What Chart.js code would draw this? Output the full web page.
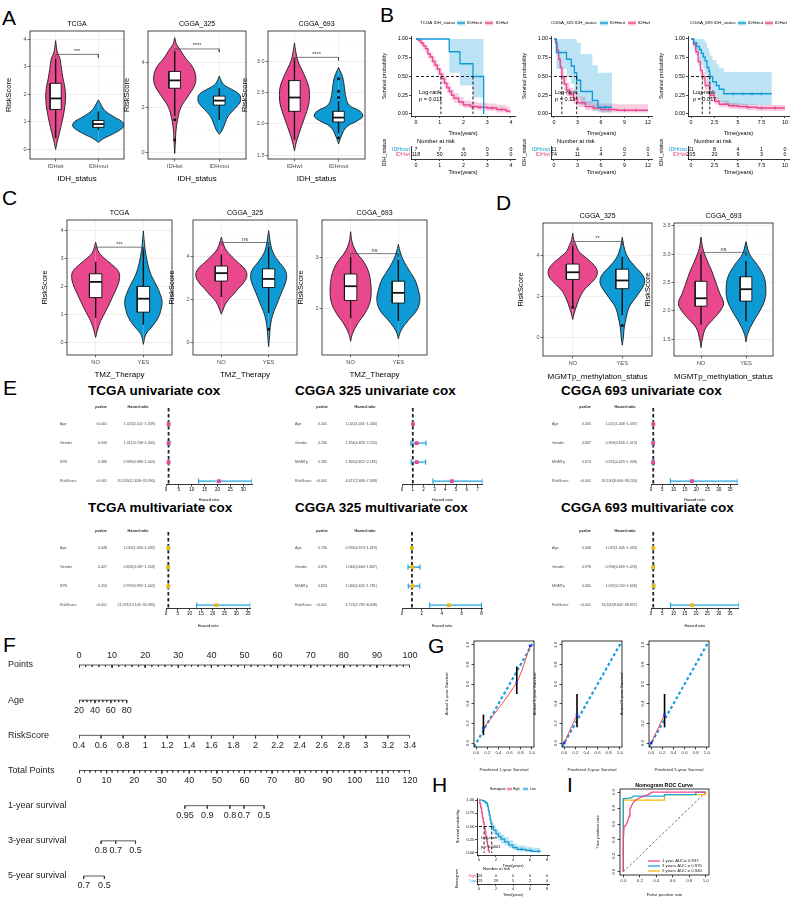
<!DOCTYPE html>
<html>
<head>
<meta charset="utf-8">
<title>Risk score figure</title>
<script src="https://cdn.jsdelivr.net/npm/chart.js@4.4.1/dist/chart.umd.min.js"></script>
<style>
  body { margin: 0; background: #fff; }
  #fig { position: relative; width: 794px; height: 897px; overflow: hidden; font-family: 'Liberation Sans', Arial, sans-serif; }
  #fig canvas { position: absolute; }
  .tag { position: absolute; font-size: 21px; line-height: 1; color: #000; }
  .cox { position: absolute; font-size: 13.5px; font-weight: bold; line-height: 1; white-space: nowrap; color: #000; }
</style>
</head>
<body>
<div id="fig">
  <div class="tag" style="left:2px;top:7px">A</div>
  <div class="tag" style="left:380px;top:4px">B</div>
  <div class="tag" style="left:2px;top:187px">C</div>
  <div class="tag" style="left:496px;top:192px">D</div>
  <div class="tag" style="left:3px;top:377px">E</div>
  <div class="tag" style="left:3px;top:634px">F</div>
  <div class="tag" style="left:428px;top:635px">G</div>
  <div class="tag" style="left:432px;top:774px">H</div>
  <div class="tag" style="left:567px;top:774px">I</div>
  <div class="cox" style="left:88px;top:384px">TCGA univariate cox</div>
  <div class="cox" style="left:295px;top:384px">CGGA 325 univariate cox</div>
  <div class="cox" style="left:561px;top:384px">CGGA 693 univariate cox</div>
  <div class="cox" style="left:88px;top:501px">TCGA multivariate cox</div>
  <div class="cox" style="left:295px;top:501px">CGGA 325 multivariate cox</div>
  <div class="cox" style="left:561px;top:501px">CGGA 693 multivariate cox</div>
</div>
<script>
const PINK = '#E9488F', BLUE = '#0E9BD5';
const PINK_L = 'rgba(233,72,143,0.28)', BLUE_L = 'rgba(14,155,213,0.28)';
const EBLUE = '#1EA5DE', GOLD = '#F4B50C';

// ---- A: RiskScore by IDH status (violin outline: y levels + half widths) ----
const idhCats = ['IDHwt', 'IDHmut'];
const aTcgaWtY = [0, 0.3, 0.6, 1.0, 1.4, 1.8, 2.2, 2.6, 3.0, 3.3, 3.5, 3.7, 3.95];
const aTcgaWtW = [0, 0.04, 0.09, 0.15, 0.2, 0.23, 0.22, 0.17, 0.13, 0.1, 0.045, 0.02, 0];
const aTcgaMutY = [0.25, 0.4, 0.55, 0.7, 0.85, 1.0, 1.15, 1.3, 1.45, 1.6, 1.8];
const aTcgaMutW = [0, 0.13, 0.33, 0.5, 0.6, 0.56, 0.4, 0.24, 0.13, 0.07, 0];
const aTcgaBox = [[1.45, 1.85, 2.4], [0.8, 0.92, 1.05]];
const aTcgaWhisk = [[0.4, 3.3], [0.7, 1.38]];

const a325WtY = [-0.05, 0.5, 1.0, 1.5, 2.0, 2.5, 3.0, 3.4, 3.8, 4.2, 4.6, 4.8, 5.1];
const a325WtW = [0, 0.015, 0.03, 0.07, 0.14, 0.3, 0.45, 0.47, 0.4, 0.24, 0.11, 0.04, 0];
const a325MutY = [0.8, 1.0, 1.3, 1.6, 1.9, 2.2, 2.4, 2.6, 2.8, 3.0, 3.2, 3.4];
const a325MutW = [0, 0.07, 0.13, 0.2, 0.33, 0.46, 0.48, 0.44, 0.28, 0.11, 0.04, 0];
const a325Box = [[2.85, 3.2, 3.6], [2.1, 2.3, 2.5]];
const a325Whisk = [[1.6, 4.5], [1.45, 2.85]];
const a325WtOut = [0.55, 1.45];

const a693WtY = [1.57, 1.7, 1.9, 2.1, 2.3, 2.45, 2.6, 2.8, 3.0, 3.15, 3.29];
const a693WtW = [0, 0.04, 0.13, 0.23, 0.32, 0.34, 0.32, 0.21, 0.08, 0.03, 0];
const a693MutY = [1.68, 1.8, 1.95, 2.05, 2.12, 2.2, 2.3, 2.45, 2.6, 2.75, 2.9];
const a693MutW = [0, 0.06, 0.18, 0.43, 0.55, 0.49, 0.24, 0.16, 0.13, 0.09, 0];
const a693Box = [[2.2, 2.42, 2.69], [2.03, 2.1, 2.2]];
const a693Whisk = [[1.75, 3.05], [1.85, 2.36]];
const a693MutOut = [2.42, 2.52, 2.72, 1.78];

// ---- C: RiskScore by TMZ therapy ----
const yesNo = ['NO', 'YES'];
const cTcgaNoY = [0.2, 0.5, 0.8, 1.1, 1.4, 1.7, 2.0, 2.3, 2.55, 2.8, 3.0, 3.2, 3.4, 3.6];
const cTcgaNoW = [0, 0.045, 0.11, 0.2, 0.29, 0.37, 0.45, 0.5, 0.48, 0.34, 0.2, 0.08, 0.03, 0];
const cTcgaYesY = [-0.05, 0.3, 0.6, 0.9, 1.2, 1.5, 1.8, 2.1, 2.4, 2.7, 3.0, 3.3, 3.6, 4.0];
const cTcgaYesW = [0, 0.05, 0.19, 0.31, 0.37, 0.39, 0.34, 0.26, 0.17, 0.11, 0.07, 0.04, 0.02, 0];
const cTcgaBox = [[1.62, 2.18, 2.47], [1.1, 1.58, 2.02]];
const cTcgaWhisk = [[0.9, 2.9], [0.65, 3.4]];

const c325NoY = [1.3, 1.6, 1.9, 2.2, 2.5, 2.8, 3.1, 3.4, 3.7, 4.0, 4.3, 4.6, 4.9];
const c325NoW = [0, 0.05, 0.12, 0.24, 0.36, 0.48, 0.54, 0.5, 0.36, 0.22, 0.1, 0.04, 0];
const c325YesY = [-0.2, 0.3, 0.8, 1.3, 1.8, 2.3, 2.8, 3.1, 3.4, 3.8, 4.2, 4.6, 5.2];
const c325YesW = [0, 0.02, 0.04, 0.09, 0.18, 0.27, 0.36, 0.38, 0.34, 0.2, 0.09, 0.04, 0];
const c325Box = [[2.85, 3.22, 3.55], [2.55, 2.95, 3.42]];
const c325Whisk = [[2.1, 4.1], [1.35, 4.45]];
const c325YesOut = [0.6];

const c693NoY = [1.35, 1.5, 1.7, 1.9, 2.1, 2.3, 2.5, 2.7, 2.9, 3.1, 3.3, 3.5];
const c693NoW = [0, 0.04, 0.15, 0.3, 0.4, 0.43, 0.42, 0.38, 0.28, 0.12, 0.03, 0];
const c693YesY = [1.4, 1.55, 1.75, 1.95, 2.15, 2.35, 2.55, 2.75, 2.95, 3.1, 3.25];
const c693YesW = [0, 0.05, 0.2, 0.38, 0.45, 0.42, 0.35, 0.22, 0.1, 0.04, 0];
const c693Box = [[2.15, 2.43, 2.67], [2.1, 2.3, 2.53]];
const c693Whisk = [[1.8, 3.0], [1.75, 2.95]];

// ---- D: RiskScore by MGMTp methylation ----
const d325NoY = [0.9, 1.2, 1.5, 1.9, 2.3, 2.7, 3.0, 3.3, 3.6, 3.9, 4.2, 4.5, 4.8, 5.1];
const d325NoW = [0, 0.03, 0.07, 0.13, 0.22, 0.38, 0.48, 0.49, 0.41, 0.27, 0.13, 0.07, 0.02, 0];
const d325YesY = [-0.35, 0, 0.5, 1.0, 1.5, 2.0, 2.5, 2.8, 3.1, 3.5, 3.9, 4.3, 4.9];
const d325YesW = [0, 0.02, 0.04, 0.08, 0.14, 0.28, 0.42, 0.45, 0.4, 0.25, 0.12, 0.05, 0];
const d325Box = [[2.85, 3.2, 3.6], [2.4, 2.8, 3.35]];
const d325Whisk = [[1.55, 4.5], [1.1, 3.95]];
const d325NoOut = [1.5], d325YesOut = [0.6];

const d693NoY = [1.35, 1.5, 1.7, 1.9, 2.05, 2.15, 2.3, 2.5, 2.7, 2.9, 3.1, 3.3];
const d693NoW = [0, 0.03, 0.11, 0.33, 0.47, 0.5, 0.42, 0.33, 0.24, 0.13, 0.04, 0];
const d693YesY = [1.45, 1.6, 1.8, 2.0, 2.2, 2.4, 2.6, 2.8, 3.0, 3.22];
const d693YesW = [0, 0.04, 0.16, 0.31, 0.42, 0.44, 0.4, 0.26, 0.08, 0];
const d693Box = [[2.08, 2.22, 2.52], [2.17, 2.38, 2.6]];
const d693Whisk = [[1.75, 3.0], [1.82, 2.88]];

// ---- B: Kaplan-Meier by IDH status ----
const bTcgaMutT = [0, 1.4, 1.85, 2.4, 2.85];
const bTcgaMutS = [1, 0.83, 0.67, 0.5, 0];
const bTcgaMutUp = [1, 1, 1, 1, 0];
const bTcgaMutLo = [1, 0.55, 0.38, 0.22, 0];
const bTcgaWtT = [0, 0.1, 0.2, 0.3, 0.4, 0.5, 0.6, 0.7, 0.8, 0.9, 1.0, 1.1, 1.2, 1.3, 1.4, 1.5, 1.6, 1.8, 2.0, 2.3, 2.6, 3.0, 3.4, 3.8, 3.95];
const bTcgaWtS = [1, 0.98, 0.95, 0.91, 0.87, 0.8, 0.76, 0.7, 0.65, 0.6, 0.53, 0.47, 0.41, 0.35, 0.3, 0.25, 0.21, 0.16, 0.12, 0.1, 0.09, 0.08, 0.06, 0.04, 0.02];
const bTcgaWtUp = [1, 1, 0.99, 0.96, 0.92, 0.86, 0.82, 0.77, 0.72, 0.67, 0.61, 0.55, 0.49, 0.43, 0.38, 0.33, 0.28, 0.23, 0.18, 0.16, 0.15, 0.14, 0.12, 0.1, 0.08];
const bTcgaWtLo = [1, 0.95, 0.91, 0.86, 0.81, 0.74, 0.69, 0.63, 0.58, 0.53, 0.46, 0.4, 0.34, 0.28, 0.24, 0.19, 0.15, 0.11, 0.08, 0.06, 0.05, 0.04, 0.02, 0.01, 0];
const bTcgaWtCens = [2.7, 3.2, 3.6];
const tcgaRiskMut = [7, 7, 4, 0, 0], tcgaRiskWt = [118, 50, 10, 3, 0];

const b325MutT = [0, 0.3, 1.6, 2.2, 2.6, 2.9, 3.4, 4.9, 5.6, 7.4];
const b325MutS = [1, 0.82, 0.73, 0.64, 0.55, 0.45, 0.3, 0.18, 0.09, 0.09];
const b325MutUp = [1, 1, 1, 1, 1, 0.95, 0.8, 0.65, 0.55, 0.55];
const b325MutLo = [1, 0.6, 0.5, 0.4, 0.3, 0.22, 0.12, 0.05, 0.02, 0.02];
const b325WtT = [0, 0.2, 0.4, 0.6, 0.8, 1.0, 1.3, 1.6, 2.0, 2.5, 3.0, 4.0, 5.0, 6.0, 8.0, 12.0];
const b325WtS = [1, 0.95, 0.85, 0.73, 0.62, 0.5, 0.4, 0.32, 0.26, 0.2, 0.15, 0.1, 0.08, 0.06, 0.05, 0.05];
const b325WtUp = [1, 0.99, 0.92, 0.82, 0.71, 0.6, 0.5, 0.42, 0.35, 0.29, 0.23, 0.17, 0.15, 0.14, 0.13, 0.13];
const b325WtLo = [1, 0.9, 0.78, 0.65, 0.53, 0.41, 0.31, 0.24, 0.18, 0.13, 0.09, 0.05, 0.04, 0.02, 0.02, 0.02];
const b325WtCens = [7, 9, 10.5];
const c325RiskMut = [11, 4, 1, 0, 0], c325RiskWt = [74, 11, 4, 2, 1];

const b693MutT = [0, 0.3, 0.6, 0.9, 1.1, 1.3, 1.5, 1.7, 1.9, 2.0, 2.3, 2.7, 3.0, 3.5, 8.6];
const b693MutS = [1, 0.95, 0.9, 0.86, 0.81, 0.76, 0.71, 0.62, 0.57, 0.5, 0.43, 0.38, 0.33, 0.27, 0.27];
const b693MutUp = [1, 1, 1, 1, 1, 0.98, 0.95, 0.88, 0.84, 0.78, 0.72, 0.66, 0.61, 0.56, 0.56];
const b693MutLo = [1, 0.86, 0.78, 0.72, 0.65, 0.59, 0.53, 0.44, 0.38, 0.31, 0.25, 0.2, 0.16, 0.12, 0.12];
const b693MutCens = [4.5, 5.5, 6.5, 7.5];
const b693WtT = [0, 0.25, 0.5, 0.75, 1.0, 1.2, 1.5, 2.0, 2.5, 3.0, 4.0, 5.0, 6.0, 7.0, 10.0];
const b693WtS = [1, 0.93, 0.83, 0.7, 0.58, 0.5, 0.38, 0.25, 0.17, 0.13, 0.11, 0.1, 0.09, 0.08, 0.08];
const b693WtUp = [1, 0.96, 0.88, 0.76, 0.64, 0.56, 0.44, 0.3, 0.22, 0.18, 0.15, 0.14, 0.13, 0.12, 0.12];
const b693WtLo = [1, 0.9, 0.78, 0.64, 0.52, 0.44, 0.32, 0.2, 0.13, 0.09, 0.07, 0.06, 0.05, 0.04, 0.04];
const b693WtCens = [4.5, 6, 7.5, 9];
const c693RiskMut = [21, 8, 4, 1, 0], c693RiskWt = [205, 20, 9, 3, 0];

// ---- E: Cox forest plots ----
const tcgaVars = ['Age', 'Gender', 'KPS', 'RiskScore'];
const cggaVars = ['Age', 'Gender', 'MGMTp', 'RiskScore'];
const tcgaUniP = ['<0.001', '0.944', '0.386', '<0.001'];
const tcgaUniHR = [1.025, 1.011, 0.989, 20.559];
const tcgaUniLo = [1.011, 0.708, 0.980, 12.658];
const tcgaUniHi = [1.039, 1.445, 1.003, 33.390];
const c325UniP = ['0.041', '0.230', '0.185', '<0.001'];
const c325UniHR = [1.020, 1.354, 1.365, 4.617];
const c325UniLo = [1.001, 0.826, 0.852, 2.866];
const c325UniHi = [1.040, 2.220, 2.185, 7.438];
const c693UniP = ['0.005', '0.847', '0.674', '<0.001'];
const c693UniHR = [1.021, 0.963, 0.921, 18.130];
const c693UniLo = [1.006, 0.656, 0.629, 8.604];
const c693UniHi = [1.037, 1.413, 1.349, 38.234];
const tcgaMulP = ['0.048', '0.427', '0.200', '<0.001'];
const tcgaMulHR = [1.016, 0.858, 0.997, 21.591];
const tcgaMulLo = [1.000, 0.587, 0.992, 13.105];
const tcgaMulHi = [1.032, 1.253, 1.002, 35.985];
const c325MulP = ['0.736', '0.876', '0.824', '<0.001'];
const c325MulHR = [0.996, 1.044, 1.066, 4.723];
const c325MulLo = [0.974, 0.604, 0.632, 2.785];
const c325MulHi = [1.019, 1.807, 1.781, 8.008];
const c693MulP = ['0.008', '0.978', '0.665', '<0.001'];
const c693MulHR = [1.019, 0.994, 1.097, 18.320];
const c693MulLo = [1.005, 0.669, 0.740, 8.642];
const c693MulHi = [1.033, 1.476, 1.626, 38.857];

// ---- F: nomogram ----
const nomoRows = ['Points', 'Age', 'RiskScore', 'Total Points', '1-year survival', '3-year survival', '5-year survival'];
const pointsLabels = [0, 10, 20, 30, 40, 50, 60, 70, 80, 90, 100];
const ageLabels = [20, 40, 60, 80];
const agePointsAt80 = 14.4;
const riskLabels = [0.4, 0.6, 0.8, 1, 1.2, 1.4, 1.6, 1.8, 2, 2.2, 2.4, 2.6, 2.8, 3, 3.2, 3.4];
const totalLabels = [0, 10, 20, 30, 40, 50, 60, 70, 80, 90, 100, 110, 120];
const surv1Labels = ['0.95', '0.9', '0.8', '0.7', '0.5'], surv1Pos = [38.4, 46.5, 54.7, 59.8, 67.1];
const surv3Labels = ['0.8', '0.7', '0.5'], surv3Pos = [8.0, 13.3, 20.5];
const surv5Labels = ['0.7', '0.5'], surv5Pos = [1.7, 9.2];

// ---- G: calibration ----
const cal1Pred = [0.13, 0.73, 0.97], cal1Obs = [0.15, 0.62, 0.99], cal1Lo = [0.08, 0.50, null], cal1Hi = [0.29, 0.78, null];
const cal3Pred = [0.0, 0.23], cal3Obs = [0.0, 0.29], cal3Lo = [null, 0.16], cal3Hi = [null, 0.50];
const cal5Pred = [0.0, 0.24], cal5Obs = [0.0, 0.29], cal5Lo = [null, 0.16], cal5Hi = [null, 0.50];

// ---- H: KM by nomogram group ----
const hHighT = [0, 0.1, 0.2, 0.3, 0.4, 0.5, 0.6, 0.7, 0.8, 0.9, 1.0, 1.1, 1.2];
const hHighS = [1, 0.93, 0.85, 0.76, 0.67, 0.58, 0.5, 0.41, 0.32, 0.22, 0.13, 0.05, 0];
const hHighUp = [1, 0.97, 0.9, 0.82, 0.73, 0.64, 0.56, 0.47, 0.38, 0.28, 0.18, 0.09, 0];
const hHighLo = [1, 0.89, 0.8, 0.7, 0.61, 0.52, 0.44, 0.35, 0.26, 0.17, 0.08, 0.02, 0];
const hLowT = [0, 0.4, 0.6, 0.8, 1.0, 1.1, 1.2, 1.3, 1.4, 1.5, 1.7, 2.0, 2.3, 2.6, 3.0, 3.5, 4.0, 4.5, 5.5, 6.2, 7.2];
const hLowS = [1, 0.99, 0.97, 0.94, 0.88, 0.8, 0.72, 0.63, 0.56, 0.5, 0.43, 0.36, 0.31, 0.26, 0.21, 0.15, 0.1, 0.07, 0.05, 0.03, 0.02];
const hLowUp = [1, 1, 1, 0.98, 0.93, 0.86, 0.79, 0.71, 0.65, 0.59, 0.52, 0.45, 0.4, 0.35, 0.3, 0.24, 0.18, 0.14, 0.12, 0.1, 0.1];
const hLowLo = [1, 0.97, 0.93, 0.88, 0.82, 0.73, 0.65, 0.56, 0.48, 0.42, 0.35, 0.28, 0.23, 0.18, 0.14, 0.09, 0.05, 0.03, 0.02, 0.01, 0.005];
const hLowCens = [5, 6, 7];
const nomoRiskHigh = [123, 0, 0, 0, 0], nomoRiskLow = [123, 29, 5, 2, 0];

// ---- I: ROC ----
const roc1Fpr = [0, 0, 0.01, 0.03, 0.05, 0.06, 0.07, 0.08, 0.1, 0.12, 0.15, 0.2, 0.25, 0.3, 0.35, 1];
const roc1Tpr = [0, 0.4, 0.57, 0.58, 0.63, 0.66, 0.7, 0.78, 0.83, 0.87, 0.9, 0.93, 0.95, 0.97, 1, 1];
const roc3Fpr = [0, 0, 0.03, 0.1, 0.12, 0.5, 0.5, 0.88, 0.88, 1];
const roc3Tpr = [0, 0.92, 0.92, 0.93, 0.95, 0.95, 0.97, 0.97, 1, 1];
const roc5Fpr = [0, 0, 0.5, 0.5, 1, 1];
const roc5Tpr = [0, 0.9, 0.9, 0.97, 0.97, 1];
const rocLegend = ['1 year AUC= 0.937', '3 years AUC = 0.970', '5 years AUC = 0.940'];

// ================= helpers =================
const FONT = "'Liberation Sans', Arial, sans-serif";
Chart.defaults.font.family = FONT;
Chart.defaults.color = '#333';
Chart.defaults.animation = false;
Chart.defaults.responsive = false;
Chart.defaults.maintainAspectRatio = false;
Chart.defaults.plugins.legend.display = false;
Chart.defaults.plugins.tooltip.enabled = false;
Chart.defaults.plugins.colors.enabled = false;
Chart.defaults.elements.point.radius = 0;
Chart.defaults.elements.point.hoverRadius = 0;

Chart.register({
  id: 'frame',
  afterDatasetsDraw(chart, args, opts) {
    if (!opts.color) return;
    const a = chart.chartArea, ctx = chart.ctx;
    ctx.save();
    ctx.strokeStyle = opts.color;
    ctx.lineWidth = opts.width || 1;
    ctx.strokeRect(a.left, a.top, a.right - a.left, a.bottom - a.top);
    ctx.restore();
  }
});
Chart.register({
  id: 'texts',
  afterDatasetsDraw(chart) {
    const items = chart.canvas._texts || [];
    const ctx = chart.ctx, ox = chart.canvas._ox, oy = chart.canvas._oy;
    items.forEach(t => {
      let px = t.px !== undefined ? t.px - ox : chart.scales[t.xAxis || 'x'].getPixelForValue(t.x);
      let py = t.py !== undefined ? t.py - oy : chart.scales[t.yAxis || 'y'].getPixelForValue(t.y);
      px += t.dx || 0; py += t.dy || 0;
      ctx.save();
      if (t.swatch) {
        if (t.fill) { ctx.fillStyle = t.fill; ctx.fillRect(px, py - t.h / 2, t.w, t.h); }
        ctx.strokeStyle = t.swatch; ctx.lineWidth = t.lw || 1;
        ctx.beginPath(); ctx.moveTo(px, py); ctx.lineTo(px + t.w, py); ctx.stroke();
      } else {
        ctx.font = (t.bold ? 'bold ' : '') + (t.size || 6) + 'px ' + FONT;
        ctx.fillStyle = t.color || '#000';
        ctx.textAlign = t.align || 'center';
        ctx.textBaseline = 'middle';
        ctx.fillText(t.text, px, py);
      }
      ctx.restore();
    });
  }
});

const fig = document.getElementById('fig');
function mk(cv, texts) {
  const c = document.createElement('canvas');
  c.width = cv[2]; c.height = cv[3];
  c.style.left = cv[0] + 'px'; c.style.top = cv[1] + 'px';
  c._ox = cv[0]; c._oy = cv[1]; c._texts = texts || [];
  fig.appendChild(c);
  return c;
}
function pad(cv, pa, left) {
  return { padding: { left: left || 0, top: pa[1] - cv[1], right: cv[0] + cv[2] - pa[2], bottom: 0 } };
}
const ticksAt = list => s => { s.ticks = list.map(v => ({ value: v })); };
const fitW = w => s => { s.width = w; };
const fitH = h => s => { s.height = h; };
const pts = (xs, ys) => xs.map((x, i) => ({ x, y: ys[i] }));
function survAt(t, s, x) { let v = s[0]; t.forEach((ti, i) => { if (ti <= x) v = s[i]; }); return v; }

// ---------- violin (ggplot theme_bw) ----------
function violin(o) {
  const cv = o.cv, pa = o.pa, ds = [];
  o.groups.forEach((g, i) => {
    const c = i + 1, col = i === 0 ? PINK : BLUE, bw = 0.13, b = g.box;
    ds.push({ data: g.y.map((y, k) => ({ x: c - g.w[k], y })), fill: { value: c }, backgroundColor: col, borderColor: '#1a1a1a', borderWidth: 0.9, tension: 0.4, order: 9 });
    ds.push({ data: g.y.map((y, k) => ({ x: c + g.w[k], y })), fill: { value: c }, backgroundColor: col, borderColor: '#1a1a1a', borderWidth: 0.9, tension: 0.4, order: 9 });
    ds.push({ data: [{ x: c, y: g.wk[0] }, { x: c, y: g.wk[1] }], borderColor: '#111', borderWidth: 1.4, fill: false, order: 7 });
    ds.push({ data: [{ x: c - bw, y: b[0] }, { x: c - bw, y: b[2] }], fill: { value: c + bw }, backgroundColor: '#fff', borderWidth: 0, order: 6 });
    ds.push({ data: [{ x: c - bw, y: b[0] }, { x: c + bw, y: b[0] }, { x: c + bw, y: b[2] }, { x: c - bw, y: b[2] }, { x: c - bw, y: b[0] }], borderColor: '#111', borderWidth: 0.9, fill: false, order: 5 });
    ds.push({ data: [{ x: c - bw, y: b[1] }, { x: c + bw, y: b[1] }], borderColor: '#111', borderWidth: 1.8, fill: false, order: 4 });
    if (g.out) ds.push({ data: g.out.map(y => ({ x: c, y })), showLine: false, pointRadius: 1.5, pointBackgroundColor: '#111', pointBorderWidth: 0, order: 2 });
  });
  const tip = (o.yr[1] - o.yr[0]) * 0.025, sy = o.sig[0];
  ds.push({ data: [{ x: 1, y: sy - tip }, { x: 1, y: sy }, { x: 2, y: sy }, { x: 2, y: sy - tip }], borderColor: '#444', borderWidth: 0.7, fill: false, order: 1 });
  const majors = o.ticks, all = majors.concat(o.minor).sort((a, b) => a - b);
  const isMaj = v => majors.some(m => Math.abs(m - v) < 1e-9);
  const texts = [
    { text: o.title, px: (pa[0] + pa[2]) / 2, py: pa[1] - 7, size: 7, color: '#000' },
    { text: o.sig[1], x: 1.5, y: sy, dy: -3, size: 5.5, color: '#333' }
  ];
  new Chart(mk(cv, texts), {
    type: 'line',
    data: { datasets: ds },
    options: {
      devicePixelRatio: 1, indexAxis: 'y', layout: pad(cv, pa),
      scales: {
        x: { type: 'linear', min: 0.4, max: 2.6, afterBuildTicks: ticksAt([1, 2]),
          ticks: { callback: v => o.cats[v - 1], font: { size: 5.8 }, color: '#4d4d4d', padding: 1, maxRotation: 0 },
          grid: { color: '#EBEBEB', lineWidth: 0.7, tickLength: 2.5, tickColor: '#333', tickWidth: 0.7 },
          border: { display: false },
          title: { display: true, text: o.xTitle, font: { size: 8 }, color: '#000', padding: { top: 1, bottom: 0 } },
          afterFit: fitH(cv[1] + cv[3] - pa[3]) },
        y: { type: 'linear', min: o.yr[0], max: o.yr[1], afterBuildTicks: ticksAt(all),
          ticks: { callback: v => isMaj(v) ? o.fmt(v) : '', font: { size: 5.5 }, color: '#4d4d4d', padding: 1, autoSkip: false },
          grid: { color: c => (c.tick && isMaj(c.tick.value)) ? '#E6E6E6' : '#F2F2F2',
            lineWidth: c => (c.tick && isMaj(c.tick.value)) ? 0.7 : 0.4, tickLength: 2.5,
            tickColor: c => (c.tick && isMaj(c.tick.value)) ? '#333' : 'rgba(0,0,0,0)', tickWidth: 0.7 },
          border: { display: false },
          title: { display: true, text: 'RiskScore', font: { size: 7.5 }, color: '#000', padding: 0 },
          afterFit: fitW(pa[0] - cv[0]) }
      },
      plugins: { frame: { color: '#333', width: 0.9 } }
    }
  });
}
const intFmt = v => String(v), decFmt = v => v.toFixed(1);

violin({ cv: [4, 14, 124, 170], pa: [30, 31, 124, 159], title: 'TCGA', cats: idhCats, xTitle: 'IDH_status', yr: [-0.35, 4.3], ticks: [0, 1, 2, 3, 4], minor: [0.5, 1.5, 2.5, 3.5], fmt: intFmt, sig: [3.45, '***'],
  groups: [{ y: aTcgaWtY, w: aTcgaWtW, box: aTcgaBox[0], wk: aTcgaWhisk[0] }, { y: aTcgaMutY, w: aTcgaMutW, box: aTcgaBox[1], wk: aTcgaWhisk[1] }] });
violin({ cv: [122, 14, 128, 170], pa: [148, 31, 246, 159], title: 'CGGA_325', cats: idhCats, xTitle: 'IDH_status', yr: [-0.3, 5.4], ticks: [0, 2, 4], minor: [1, 3, 5], fmt: intFmt, sig: [4.6, '****'],
  groups: [{ y: a325WtY, w: a325WtW, box: a325Box[0], wk: a325Whisk[0], out: a325WtOut }, { y: a325MutY, w: a325MutW, box: a325Box[1], wk: a325Whisk[1] }] });
violin({ cv: [240, 14, 128, 170], pa: [268, 31, 365, 159], title: 'CGGA_693', cats: idhCats, xTitle: 'IDH_status', yr: [1.44, 3.48], ticks: [1.5, 2.0, 2.5, 3.0], minor: [1.75, 2.25, 2.75, 3.25], fmt: decFmt, sig: [3.06, '****'],
  groups: [{ y: a693WtY, w: a693WtW, box: a693Box[0], wk: a693Whisk[0] }, { y: a693MutY, w: a693MutW, box: a693Box[1], wk: a693Whisk[1], out: a693MutOut }] });

violin({ cv: [40, 205, 136, 175], pa: [67, 220, 172, 355], title: 'TCGA', cats: yesNo, xTitle: 'TMZ_Therapy', yr: [-0.43, 4.39], ticks: [0, 1, 2, 3, 4], minor: [0.5, 1.5, 2.5, 3.5], fmt: intFmt, sig: [3.42, '***'],
  groups: [{ y: cTcgaNoY, w: cTcgaNoW, box: cTcgaBox[0], wk: cTcgaWhisk[0] }, { y: cTcgaYesY, w: cTcgaYesW, box: cTcgaBox[1], wk: cTcgaWhisk[1] }] });
violin({ cv: [167, 205, 134, 175], pa: [193, 220, 297, 355], title: 'CGGA_325', cats: yesNo, xTitle: 'TMZ_Therapy', yr: [-0.6, 5.7], ticks: [0, 2, 4], minor: [1, 3, 5], fmt: intFmt, sig: [4.65, 'ns'],
  groups: [{ y: c325NoY, w: c325NoW, box: c325Box[0], wk: c325Whisk[0] }, { y: c325YesY, w: c325YesW, box: c325Box[1], wk: c325Whisk[1], out: c325YesOut }] });
violin({ cv: [296, 205, 135, 175], pa: [322, 220, 427, 355], title: 'CGGA_693', cats: yesNo, xTitle: 'TMZ_Therapy', yr: [1.08, 3.73], ticks: [2, 3], minor: [1.5, 2.5, 3.5], fmt: intFmt, sig: [3.07, 'ns'],
  groups: [{ y: c693NoY, w: c693NoW, box: c693Box[0], wk: c693Whisk[0] }, { y: c693YesY, w: c693YesW, box: c693Box[1], wk: c693Whisk[1] }] });

violin({ cv: [516, 205, 140, 177], pa: [543, 223, 652, 356], title: 'CGGA_325', cats: yesNo, xTitle: 'MGMTp_methylation_status', yr: [-0.88, 5.6], ticks: [0, 2, 4], minor: [1, 3, 5], fmt: intFmt, sig: [4.7, '**'],
  groups: [{ y: d325NoY, w: d325NoW, box: d325Box[0], wk: d325Whisk[0], out: d325NoOut }, { y: d325YesY, w: d325YesW, box: d325Box[1], wk: d325Whisk[1], out: d325YesOut }] });
violin({ cv: [643, 205, 134, 177], pa: [674, 223, 773, 356], title: 'CGGA_693', cats: yesNo, xTitle: 'MGMTp_methylation_status', yr: [1.2, 3.55], ticks: [1.5, 2.0, 2.5, 3.0, 3.5], minor: [1.25, 1.75, 2.25, 2.75, 3.25], fmt: decFmt, sig: [3.03, 'ns'],
  groups: [{ y: d693NoY, w: d693NoW, box: d693Box[0], wk: d693Whisk[0] }, { y: d693YesY, w: d693YesW, box: d693Box[1], wk: d693Whisk[1] }] });

// ---------- Kaplan-Meier ----------
function kmX(cv, pa, xr, ticks, fs) {
  return { type: 'linear', min: xr[0], max: xr[1], afterBuildTicks: ticksAt(ticks),
    ticks: { callback: v => String(v), font: { size: fs }, color: '#000', padding: 1, maxRotation: 0, autoSkip: false },
    grid: { drawOnChartArea: false, tickLength: 2, tickColor: '#000', tickWidth: 0.7 },
    border: { color: '#000', width: 0.8 },
    title: { display: true, text: 'Time(years)', font: { size: fs + 0.2 }, color: '#000', padding: 0 },
    afterFit: fitH(cv[1] + cv[3] - pa[3]) };
}
function km(o) {
  const cv = o.cv, pa = o.pa, ds = [];
  o.groups.forEach(g => {
    ds.push({ data: pts(g.t, g.up), stepped: true, fill: '+1', backgroundColor: g.light, borderWidth: 0, order: 10 });
    ds.push({ data: pts(g.t, g.lo), stepped: true, fill: false, borderWidth: 0, order: 10 });
  });
  o.groups.forEach(g => {
    ds.push({ data: pts(g.t, g.s), stepped: true, fill: false, borderColor: g.color, borderWidth: o.lw, order: 5 });
    if (g.cens) ds.push({ data: g.cens.map(c => ({ x: c, y: survAt(g.t, g.s, c) })), showLine: false, pointStyle: 'cross', pointRadius: 1.8, pointBorderColor: g.color, pointBorderWidth: 0.7, order: 4 });
  });
  const med = [{ x: 0, y: 0.5 }, { x: Math.max(...o.med), y: 0.5 }];
  o.med.forEach(v => med.push({ x: v, y: null }, { x: v, y: 0.5 }, { x: v, y: 0 }));
  ds.push({ data: med, borderColor: '#000', borderWidth: 0.9, borderDash: [3, 2], fill: false, order: 3 });
  const texts = o.legend.concat([
    { text: 'Log-rank', x: o.lr[0], y: o.lr[1], align: 'left', size: o.fs + 0.3, color: '#000' },
    { text: o.p, x: o.lr[0], y: o.lr[2], align: 'left', size: o.fs + 0.3, color: '#000' }
  ]);
  new Chart(mk(cv, texts), {
    type: 'line', data: { datasets: ds },
    options: { devicePixelRatio: 1, layout: pad(cv, pa),
      scales: {
        x: kmX(cv, pa, o.xr, o.ticks, o.fs),
        y: { type: 'linear', min: o.yr[0], max: o.yr[1], afterBuildTicks: ticksAt([0, 0.25, 0.5, 0.75, 1]),
          ticks: { callback: v => v.toFixed(2), font: { size: o.fs }, color: '#000', padding: 1 },
          grid: { drawOnChartArea: false, tickLength: 2, tickColor: '#000', tickWidth: 0.7 },
          border: { color: '#000', width: 0.8 },
          title: { display: true, text: 'Survival probability', font: { size: o.fs + 0.2 }, color: '#000', padding: 0 },
          afterFit: fitW(pa[0] - cv[0]) }
      } }
  });
}
function risk(o) {
  const cv = o.cv, pa = o.pa;
  const texts = [{ text: 'Number at risk', px: pa[0] + 6, py: o.hy, align: 'left', size: o.hs, color: '#000' }];
  o.rows.forEach((r, ri) => r.n.forEach((n, k) => texts.push({ text: String(n), x: o.ticks[k], y: ri + 1, size: o.fs, color: '#000' })));
  new Chart(mk(cv, texts), {
    type: 'line', data: { datasets: [] },
    options: { devicePixelRatio: 1, layout: pad(cv, pa),
      scales: {
        x: kmX(cv, pa, o.xr, o.ticks, o.fs),
        y: { type: 'linear', reverse: true, min: 0.2, max: 2.8, afterBuildTicks: ticksAt([1, 2]),
          ticks: { callback: v => o.rows[v - 1].name, color: c => o.rows[c.index].color, font: { size: o.fs }, padding: 1 },
          grid: { drawOnChartArea: false, tickLength: 0 },
          border: { color: '#000', width: 0.8 },
          title: { display: true, text: o.yTitle, font: { size: o.fs + 0.3 }, color: '#000', padding: 0 },
          afterFit: fitW(pa[0] - cv[0]) }
      } }
  });
}
function kmLegend(y, title, x) {
  return [
    { text: title, px: x[0], py: y, align: 'left', size: 4.4, color: '#000' },
    { swatch: BLUE, fill: BLUE_L, px: x[1], py: y, w: 8, h: 5, lw: 1.4 },
    { text: 'IDHmut', px: x[2], py: y, align: 'left', size: 4.4, color: '#000' },
    { swatch: PINK, fill: PINK_L, px: x[3], py: y, w: 8, h: 5, lw: 1.4 },
    { text: 'IDHwt', px: x[4], py: y, align: 'left', size: 4.4, color: '#000' }
  ];
}
const bKmY = [-0.027, 1.04];
function idhGroups(mt, ms, mu, ml, wt, ws, wu, wl, mc, wc) {
  return [{ t: mt, s: ms, up: mu, lo: ml, color: BLUE, light: BLUE_L, cens: mc },
          { t: wt, s: ws, up: wu, lo: wl, color: PINK, light: PINK_L, cens: wc }];
}
km({ cv: [381, 17, 137, 120], pa: [411, 36, 515, 116], xr: [-0.21, 4.17], yr: bKmY, ticks: [0, 1, 2, 3, 4], fs: 5.3, lw: 1.3,
  groups: idhGroups(bTcgaMutT, bTcgaMutS, bTcgaMutUp, bTcgaMutLo, bTcgaWtT, bTcgaWtS, bTcgaWtUp, bTcgaWtLo, null, bTcgaWtCens),
  med: [1.05, 2.4], lr: [0.13, 0.29, 0.19], p: 'p = 0.011', legend: kmLegend(23, 'TCGA IDH_status', [420, 457, 467, 485, 496]) });
km({ cv: [521, 17, 136, 120], pa: [551, 36, 652, 116], xr: [-0.38, 12.51], yr: bKmY, ticks: [0, 3, 6, 9, 12], fs: 5.3, lw: 1.3,
  groups: idhGroups(b325MutT, b325MutS, b325MutUp, b325MutLo, b325WtT, b325WtS, b325WtUp, b325WtLo, [6.5], b325WtCens),
  med: [1.0, 2.9], lr: [0.13, 0.29, 0.19], p: 'p = 0.12', legend: kmLegend(23, 'CGGA_325 IDH_status', [551, 600, 610, 628, 638]) });
km({ cv: [658, 17, 136, 120], pa: [688, 36, 789, 116], xr: [-0.32, 10.43], yr: bKmY, ticks: [0, 2.5, 5, 7.5, 10], fs: 5.3, lw: 1.3,
  groups: idhGroups(b693MutT, b693MutS, b693MutUp, b693MutLo, b693WtT, b693WtS, b693WtUp, b693WtLo, b693MutCens, b693WtCens),
  med: [1.2, 2.0], lr: [0.2, 0.29, 0.19], p: 'p = 0.017', legend: kmLegend(23, 'CGGA_693 IDH_status', [690, 738, 748, 765, 775]) });

function idhRows(mut, wt) { return [{ name: 'IDHmut', color: BLUE, n: mut }, { name: 'IDHwt', color: PINK, n: wt }]; }
risk({ cv: [381, 135, 137, 41], pa: [411, 146, 515, 159], xr: [-0.21, 4.17], ticks: [0, 1, 2, 3, 4], fs: 5.3, hs: 5.8, hy: 141, yTitle: 'IDH_status', rows: idhRows(tcgaRiskMut, tcgaRiskWt) });
risk({ cv: [521, 135, 136, 41], pa: [551, 146, 652, 159], xr: [-0.38, 12.51], ticks: [0, 3, 6, 9, 12], fs: 5.3, hs: 5.8, hy: 141, yTitle: 'IDH_status', rows: idhRows(c325RiskMut, c325RiskWt) });
risk({ cv: [658, 135, 136, 41], pa: [688, 146, 789, 159], xr: [-0.32, 10.43], ticks: [0, 2.5, 5, 7.5, 10], fs: 5.3, hs: 5.8, hy: 141, yTitle: 'IDH_status', rows: idhRows(c693RiskMut, c693RiskWt) });

// H
km({ cv: [455, 786, 100, 82], pa: [477, 798, 549, 855], xr: [-0.235, 8.235], yr: [-0.038, 1.038], ticks: [0, 2, 4, 6, 8], fs: 3.8, lw: 1.2,
  groups: [{ t: hHighT, s: hHighS, up: hHighUp, lo: hHighLo, color: PINK, light: PINK_L },
           { t: hLowT, s: hLowS, up: hLowUp, lo: hLowLo, color: BLUE, light: BLUE_L, cens: hLowCens }],
  med: [0.6, 1.5], lr: [0.24, 0.28, 0.12], p: 'p < 0.0001',
  legend: [
    { text: 'Nomogram', px: 490, py: 789, align: 'left', size: 3.2, color: '#000' },
    { swatch: PINK, fill: PINK_L, px: 507, py: 789, w: 5, h: 3.5, lw: 1 },
    { text: 'High', px: 513, py: 789, align: 'left', size: 3.2, color: '#000' },
    { swatch: BLUE, fill: BLUE_L, px: 523, py: 789, w: 5, h: 3.5, lw: 1 },
    { text: 'Low', px: 530, py: 789, align: 'left', size: 3.2, color: '#000' }
  ] });
risk({ cv: [455, 866, 100, 31], pa: [477, 873, 549, 884], xr: [-0.235, 8.235], ticks: [0, 2, 4, 6, 8], fs: 3.6, hs: 4.2, hy: 869, yTitle: 'Nomogram',
  rows: [{ name: 'High', color: PINK, n: nomoRiskHigh }, { name: 'Low', color: BLUE, n: nomoRiskLow }] });

// ---------- forest plots ----------
function forest(o) {
  const cv = o.cv, pa = o.pa, ds = [];
  ds.push({ data: [{ x: 1, y: 0.15 }, { x: 1, y: 4.15 }], borderColor: '#222', borderWidth: 1.8, borderDash: [3.5, 2.5], fill: false, order: 5 });
  o.hr.forEach((h, i) => {
    const r = i + 1;
    ds.push({ data: [{ x: o.lo[i], y: r }, { x: o.hi[i], y: r }], borderColor: EBLUE, borderWidth: 1.4, fill: false,
      pointStyle: 'line', pointRotation: 90, pointRadius: 2.6, pointBorderColor: EBLUE, pointBorderWidth: 1.2, order: 3 });
    ds.push({ data: [{ x: h, y: r }], showLine: false, pointStyle: 'rect', pointRadius: 2.7, pointBackgroundColor: o.col, pointBorderWidth: 0, order: 1 });
  });
  const c = o.cols, fs = 3.6, tc = '#444';
  const texts = [
    { text: 'pvalue', px: c[3], y: 0.1, size: fs, bold: true, color: '#222' },
    { text: 'Hazard ratio', px: c[4], y: 0.1, size: fs, bold: true, color: '#222' }
  ];
  o.vars.forEach((v, i) => {
    const r = i + 1;
    texts.push({ text: v, px: c[0], y: r, align: 'left', size: fs, color: tc });
    texts.push({ text: o.p[i], px: c[1], y: r, align: 'right', size: fs, color: tc });
    texts.push({ text: o.hr[i].toFixed(3) + '(' + o.lo[i].toFixed(3) + '~' + o.hi[i].toFixed(3) + ')', px: c[2], y: r, align: 'right', size: fs, color: tc });
  });
  new Chart(mk(cv, texts), {
    type: 'line', data: { datasets: ds },
    options: { devicePixelRatio: 1, layout: pad(cv, pa, pa[0] - cv[0]),
      scales: {
        x: { type: 'linear', min: 0, max: o.xmax, afterBuildTicks: ticksAt(o.ticks),
          ticks: { font: { size: 4.5 }, color: '#000', padding: 0.5, maxRotation: 0, autoSkip: false },
          grid: { drawOnChartArea: false, tickLength: 2.5, tickColor: '#000', tickWidth: 0.8 },
          border: { color: '#000', width: 0.8 },
          title: { display: true, text: 'Hazard ratio', font: { size: 3.8 }, color: '#000', padding: { top: 1, bottom: 0 } },
          afterFit: fitH(cv[1] + cv[3] - pa[3]) },
        y: { display: false, type: 'linear', reverse: true, min: 0.15, max: 4.15 }
      } }
  });
}
const step5 = [0, 5, 10, 15, 20, 25, 30, 35];
forest({ cv: [50, 398, 212, 104], pa: [166, 408, 252, 484], xmax: 33.4, ticks: step5.slice(0, 7), col: PINK, cols: [60, 107, 155, 101, 138],
  vars: tcgaVars, p: tcgaUniP, hr: tcgaUniHR, lo: tcgaUniLo, hi: tcgaUniHi });
forest({ cv: [287, 398, 205, 104], pa: [402, 408, 482.5, 484], xmax: 7.45, ticks: [0, 1, 2, 3, 4, 5, 6, 7], col: PINK, cols: [295, 327, 377, 322, 365],
  vars: cggaVars, p: c325UniP, hr: c325UniHR, lo: c325UniLo, hi: c325UniHi });
forest({ cv: [544, 398, 202, 104], pa: [651, 408, 737.5, 484], xmax: 38.3, ticks: step5, col: PINK, cols: [552, 591, 637, 585, 625],
  vars: cggaVars, p: c693UniP, hr: c693UniHR, lo: c693UniLo, hi: c693UniHi });
forest({ cv: [50, 522, 212, 106], pa: [166, 532, 250.3, 608], xmax: 36, ticks: step5, col: GOLD, cols: [60, 107, 155, 101, 138],
  vars: tcgaVars, p: tcgaMulP, hr: tcgaMulHR, lo: tcgaMulLo, hi: tcgaMulHi });
forest({ cv: [287, 522, 205, 106], pa: [402, 532, 482, 608], xmax: 8.05, ticks: [0, 2, 4, 6, 8], col: GOLD, cols: [295, 327, 377, 322, 365],
  vars: cggaVars, p: c325MulP, hr: c325MulHR, lo: c325MulLo, hi: c325MulHi });
forest({ cv: [544, 522, 202, 106], pa: [651, 532, 738.7, 608], xmax: 38.9, ticks: step5, col: GOLD, cols: [552, 591, 637, 585, 625],
  vars: cggaVars, p: c693MulP, hr: c693MulHR, lo: c693MulLo, hi: c693MulHi });

// ---------- nomogram ----------
(function () {
  const cv = [0, 640, 432, 257];
  const range = (a, b, s) => { const r = []; for (let v = a; v <= b + 1e-9; v += s) r.push(Math.round(v * 1000) / 1000); return r; };
  function row(r, axis, majors, minors) {
    const all = majors.concat(minors);
    const d = [{ x: Math.min(...all), y: r }, { x: Math.max(...all), y: r }];
    minors.forEach(t => d.push({ x: t, y: null }, { x: t, y: r }, { x: t, y: r + 0.055 }));
    majors.forEach(t => d.push({ x: t, y: null }, { x: t, y: r }, { x: t, y: r + 0.085 }));
    return { data: d, xAxisID: axis, borderColor: '#333', borderWidth: 0.8, fill: false };
  }
  const ds = [
    row(0, 'xP', pointsLabels, range(0, 100, 2)),
    row(1, 'xA', ageLabels, range(20, 80, 5)),
    row(2, 'xR', riskLabels, []),
    row(3, 'xT', totalLabels, range(0, 120, 2)),
    row(4, 'xT', surv1Pos, []),
    row(5, 'xT', surv3Pos, []),
    row(6, 'xT', surv5Pos, [])
  ];
  const fs = 9, tc = '#222', texts = [];
  nomoRows.forEach((n, i) => texts.push({ text: n, px: 8, y: i, align: 'left', size: fs, color: tc }));
  pointsLabels.forEach(v => texts.push({ text: String(v), x: v, xAxis: 'xP', y: 0, dy: -9, size: fs, color: tc }));
  ageLabels.forEach(v => texts.push({ text: String(v), x: v, xAxis: 'xA', y: 1, dy: 10, size: fs, color: tc }));
  riskLabels.forEach(v => texts.push({ text: String(v), x: v, xAxis: 'xR', y: 2, dy: 10, size: fs, color: tc }));
  totalLabels.forEach(v => texts.push({ text: String(v), x: v, xAxis: 'xT', y: 3, dy: 10, size: fs, color: tc }));
  [[surv1Labels, surv1Pos, 4], [surv3Labels, surv3Pos, 5], [surv5Labels, surv5Pos, 6]].forEach(([lab, pos, r]) =>
    lab.forEach((l, k) => texts.push({ text: l, x: pos[k], xAxis: 'xT', y: r, dy: 10, size: fs, color: tc })));
  new Chart(mk(cv, texts), {
    type: 'line', data: { datasets: ds },
    options: { devicePixelRatio: 1, layout: { padding: { left: 79, right: cv[2] - 410, top: 0, bottom: 0 } },
      scales: {
        xP: { type: 'linear', display: false, min: 0, max: 100 },
        xA: { type: 'linear', display: false, min: 20, max: 20 + 60 * 100 / agePointsAt80 },
        xR: { type: 'linear', display: false, min: 0.4, max: 3.4 },
        xT: { type: 'linear', display: false, min: 0, max: 120 },
        y: { type: 'linear', display: false, reverse: true, min: -0.711, max: 6.597 }
      } }
  });
})();

// ---------- base-R style plots (G, I) ----------
function baseAxes(cv, pa, xr, yr, xt, yt, fs) {
  const tk = [0, 0.2, 0.4, 0.6, 0.8, 1.0];
  return {
    x: { type: 'linear', min: xr[0], max: xr[1], afterBuildTicks: ticksAt(tk),
      ticks: { callback: v => v.toFixed(1), font: { size: fs }, color: '#333', padding: 1, maxRotation: 0, autoSkip: false },
      grid: { drawOnChartArea: false, tickLength: 2.5, tickColor: '#000', tickWidth: 0.7 }, border: { display: false },
      title: { display: true, text: xt, font: { size: fs }, color: '#222', padding: { top: 3, bottom: 0 } },
      afterFit: fitH(cv[1] + cv[3] - pa[3]) },
    y: { type: 'linear', min: yr[0], max: yr[1], afterBuildTicks: ticksAt(tk),
      ticks: { callback: v => v.toFixed(1), font: { size: fs }, color: '#333', padding: 1, minRotation: 90, maxRotation: 90, crossAlign: 'center', autoSkip: false },
      grid: { drawOnChartArea: false, tickLength: 2.5, tickColor: '#000', tickWidth: 0.7 }, border: { display: false },
      title: { display: true, text: yt, font: { size: fs }, color: '#222', padding: { top: 0, bottom: 3 } },
      afterFit: fitW(pa[0] - cv[0]) }
  };
}
function calib(o) {
  const cv = o.cv, pa = o.pa, ds = [];
  ds.push({ data: [{ x: -0.04, y: -0.04 }, { x: 1.04, y: 1.04 }], borderColor: '#1AA0E0', borderWidth: 2.2, borderDash: [3, 2.5], fill: false, order: 4 });
  ds.push({ data: pts(o.pred, o.obs), borderColor: '#F03030', borderWidth: 0.9, tension: 0.25, fill: false, order: 3 });
  o.pred.forEach((p, i) => {
    if (o.lo[i] !== null) ds.push({ data: [{ x: p, y: o.lo[i] }, { x: p, y: o.hi[i] }], borderColor: '#000', borderWidth: 1.6, fill: false, order: 2 });
  });
  ds.push({ data: pts(o.pred, o.obs), showLine: false, pointStyle: 'rect', pointRadius: 1.8, pointBackgroundColor: '#2B2BDB', pointBorderWidth: 0, order: 1 });
  new Chart(mk(cv), {
    type: 'line', data: { datasets: ds },
    options: { devicePixelRatio: 1, layout: pad(cv, pa), scales: baseAxes(cv, pa, [-0.04, 1.04], [-0.04, 1.04], o.xt, o.yt, 4.4),
      plugins: { frame: { color: '#000', width: 0.8 } } }
  });
}
calib({ cv: [444, 636, 94, 136], pa: [474, 641, 534, 747], pred: cal1Pred, obs: cal1Obs, lo: cal1Lo, hi: cal1Hi, xt: 'Predicted 1-year Survival', yt: 'Actual 1-year Survival' });
calib({ cv: [532, 636, 94, 136], pa: [562, 641, 622, 747], pred: cal3Pred, obs: cal3Obs, lo: cal3Lo, hi: cal3Hi, xt: 'Predicted 3-year Survival', yt: 'Actual 3-year Survival' });
calib({ cv: [619, 636, 94, 136], pa: [649, 641, 709, 747], pred: cal5Pred, obs: cal5Obs, lo: cal5Lo, hi: cal5Hi, xt: 'Predicted 5-year Survival', yt: 'Actual 5-year Survival' });

(function () {
  const cv = [595, 780, 118, 117], pa = [620, 789, 709, 875];
  const cols = ['#F0448C', '#18A5E0', '#F8B800'];
  const ds = [
    { data: [{ x: 0, y: 0 }, { x: 1, y: 1 }], borderColor: '#333', borderWidth: 0.7, borderDash: [2.5, 2], fill: false, order: 4 },
    { data: pts(roc5Fpr, roc5Tpr), borderColor: cols[2], borderWidth: 1.3, fill: false, order: 3 },
    { data: pts(roc3Fpr, roc3Tpr), borderColor: cols[1], borderWidth: 1.3, fill: false, order: 2 },
    { data: pts(roc1Fpr, roc1Tpr), borderColor: cols[0], borderWidth: 1.3, fill: false, order: 1 }
  ];
  const texts = [{ text: 'Nomogram ROC Curve', px: 664, py: 786, size: 5.3, bold: true, color: '#000' }];
  rocLegend.forEach((l, i) => {
    texts.push({ swatch: cols[i], px: 648, py: 861 + i * 5, w: 12, lw: 1.3 });
    texts.push({ text: l, px: 662, py: 861 + i * 5, align: 'left', size: 4.3, color: '#222' });
  });
  new Chart(mk(cv, texts), {
    type: 'line', data: { datasets: ds },
    options: { devicePixelRatio: 1, layout: pad(cv, pa), scales: baseAxes(cv, pa, [-0.04, 1.04], [-0.04, 1.04], 'False positive rate', 'True positive rate', 4.4),
      plugins: { frame: { color: '#000', width: 0.8 } } }
  });
})();
</script>
</body>
</html>
